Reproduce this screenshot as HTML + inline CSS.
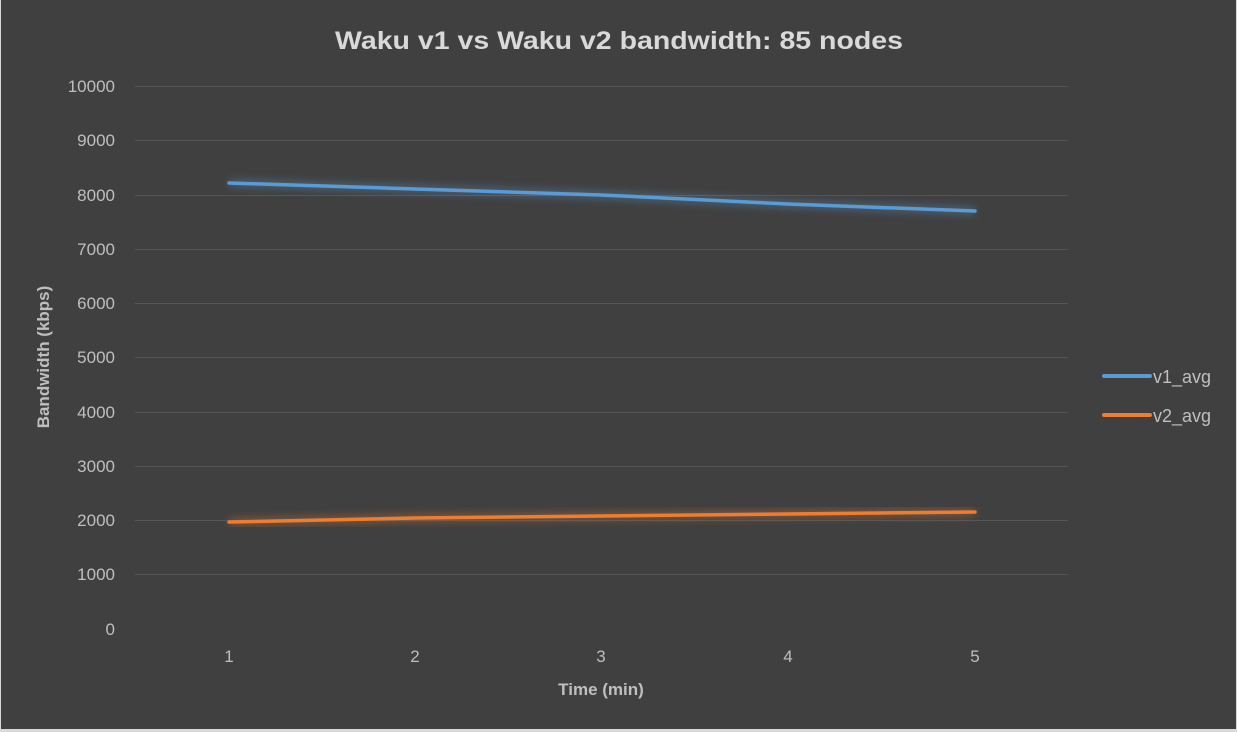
<!DOCTYPE html>
<html><head><style>
body{margin:0;background:#fff;}
svg{display:block;}
text{font-family:"Liberation Sans",sans-serif;}
</style></head><body>
<svg width="1237" height="732" viewBox="0 0 1237 732">
<defs><filter id="g" x="-10%" y="-50%" width="120%" height="200%"><feGaussianBlur stdDeviation="4"/></filter></defs>
<rect x="0" y="0" width="1237" height="732" fill="#d9d9d9"/>
<rect x="1" y="0" width="1235" height="729" fill="#404040"/>
<text x="619" y="49" text-anchor="middle" font-size="25" font-weight="bold" fill="#d9d9d9" textLength="568" lengthAdjust="spacingAndGlyphs">Waku v1 vs Waku v2 bandwidth: 85 nodes</text>
<g stroke="#555" stroke-width="1">
<line x1="135" x2="1068" y1="86.5" y2="86.5"/><line x1="135" x2="1068" y1="140.5" y2="140.5"/>
<line x1="135" x2="1068" y1="195.5" y2="195.5"/><line x1="135" x2="1068" y1="249.5" y2="249.5"/>
<line x1="135" x2="1068" y1="303.5" y2="303.5"/><line x1="135" x2="1068" y1="357.5" y2="357.5"/>
<line x1="135" x2="1068" y1="412.5" y2="412.5"/><line x1="135" x2="1068" y1="466.5" y2="466.5"/>
<line x1="135" x2="1068" y1="520.5" y2="520.5"/><line x1="135" x2="1068" y1="574.5" y2="574.5"/>
</g>
<g font-size="17" fill="#bfbfbf" text-anchor="end">
<text x="115" y="92">10000</text><text x="115" y="146">9000</text><text x="115" y="201">8000</text>
<text x="115" y="255">7000</text><text x="115" y="309">6000</text><text x="115" y="363">5000</text>
<text x="115" y="418">4000</text><text x="115" y="472">3000</text><text x="115" y="526">2000</text>
<text x="115" y="580">1000</text><text x="115" y="635">0</text>
</g>
<g font-size="17" fill="#bfbfbf" text-anchor="middle">
<text x="229" y="662">1</text><text x="415" y="662">2</text><text x="601" y="662">3</text>
<text x="788" y="662">4</text><text x="975" y="662">5</text>
</g>
<text x="601" y="695" text-anchor="middle" font-size="17" font-weight="bold" fill="#bfbfbf">Time (min)</text>
<text transform="translate(49,357) rotate(-90)" text-anchor="middle" font-size="17" font-weight="bold" fill="#bfbfbf">Bandwidth (kbps)</text>
<polyline points="229,183 415,189 601,195 788,204 975,211" fill="none" stroke="#5b9bd5" stroke-width="8" opacity="0.35" filter="url(#g)"/>
<polyline points="229,522 415,518 601,516 788,514 975,512" fill="none" stroke="#ed7d31" stroke-width="8" opacity="0.35" filter="url(#g)"/>
<polyline points="229,183 415,189 601,195 788,204 975,211" fill="none" stroke="#5b9bd5" stroke-width="3.5" stroke-linecap="round" stroke-linejoin="round"/>
<polyline points="229,522 415,518 601,516 788,514 975,512" fill="none" stroke="#ed7d31" stroke-width="3.5" stroke-linecap="round" stroke-linejoin="round"/>
<line x1="1104" x2="1150" y1="376" y2="376" stroke="#5b9bd5" stroke-width="4" stroke-linecap="round"/>
<line x1="1104" x2="1150" y1="415" y2="415" stroke="#ed7d31" stroke-width="4" stroke-linecap="round"/>
<g font-size="18" fill="#bfbfbf"><text x="1153" y="383">v1_avg</text><text x="1153" y="422">v2_avg</text></g>
</svg>
</body></html>
